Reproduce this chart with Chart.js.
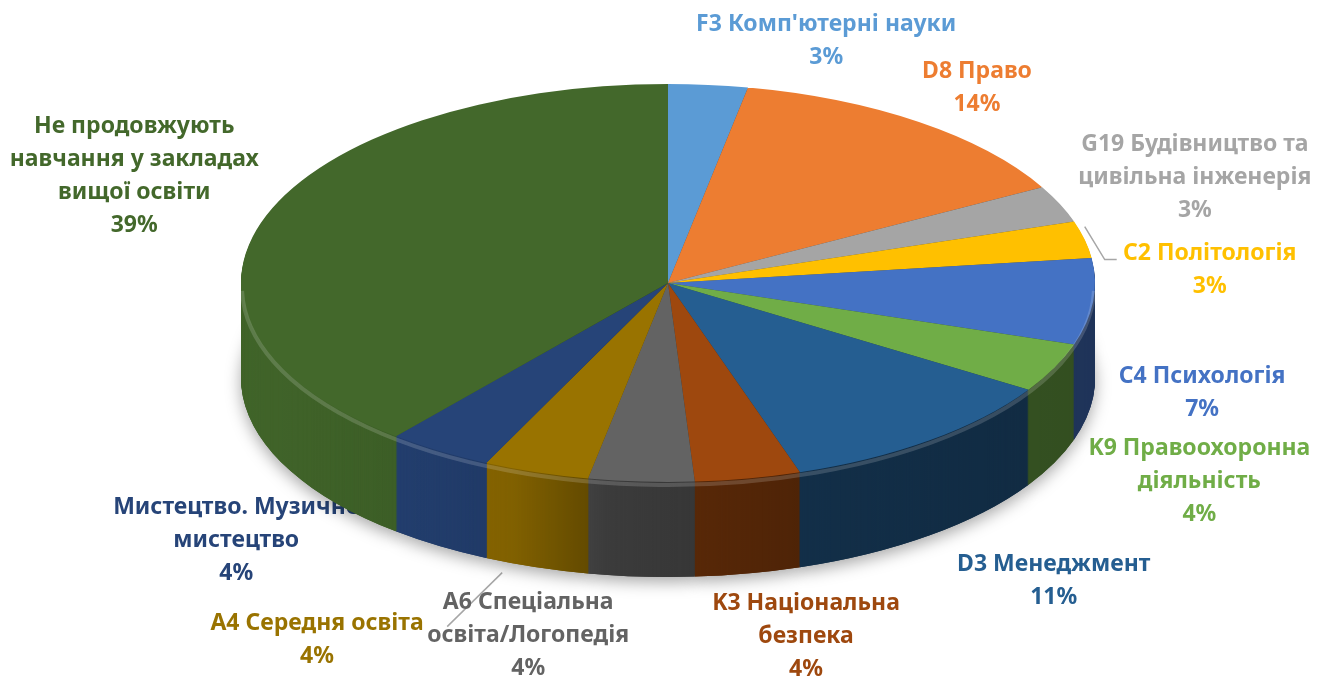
<!DOCTYPE html>
<html>
<head>
<meta charset="utf-8">
<script src="https://cdn.jsdelivr.net/npm/chart.js@4.4.1/dist/chart.umd.min.js"></script>
<style>
  html, body { margin: 0; padding: 0; background: #fff; }
  #wrap { width: 1331px; height: 684px; }
</style>
</head>
<body>
<div id="wrap"><canvas id="pie" width="1331" height="684"></canvas></div>
<script>
// slice names (one entry per label line) and shares in %
const categories = [
  ["F3 Комп'ютерні науки"],
  ['D8 Право'],
  ['G19 Будівництво та', 'цивільна інженерія'],
  ['C2 Політологія'],
  ['C4 Психологія'],
  ['K9 Правоохоронна', 'діяльність'],
  ['D3 Менеджмент'],
  ['K3 Національна', 'безпека'],
  ['A6 Спеціальна', 'освіта/Логопедія'],
  ['A4 Середня освіта'],
  ['Мистецтво. Музичне', 'мистецтво'],
  ['Не продовжують', 'навчання у закладах', 'вищої освіти']
];
const shares = [3, 14, 3, 3, 7, 4, 11, 4, 4, 4, 4, 39];

const colors = ['#5B9BD5', '#ED7D31', '#A5A5A5', '#FFC000', '#4472C4', '#70AD47',
                '#255E91', '#9E480E', '#636363', '#997300', '#264478', '#43682B'];

// how the flat pie is laid onto the page (tilted ellipse + thickness)
const EX = 668, EY = 283, RX = 427, RY = 199, DEPTH = 95;

// label nudges from the rim point at each slice's middle angle
const labelShift = [[118, -44], [58, -34], [135, -27], [125, 30], [109, 91], [145, 114],
                    [124, 141], [58, 158], [-113, 154], [-219, 168], [-203, 89], [-132, -40]];
// leader lines, points given relative to the label centre
const leaders = { 3: [[-125, -43], [-105, -10], [-93, -10]], 8: [[-26, -63], [-81, -9]] };

const FONT = 'bold 23px "Noto Sans"';
const LINE_H = 33;

function toScreen(ctx, arc, dy) {
  const r = arc.outerRadius;
  ctx.translate(EX, EY + dy);
  ctx.scale(RX / r, RY / r);
  ctx.translate(-arc.x, -arc.y);
}

function slicePath(ctx, a) {
  ctx.beginPath();
  ctx.moveTo(a.x, a.y);
  ctx.arc(a.x, a.y, a.outerRadius, a.startAngle, a.endAngle);
  ctx.closePath();
}

const pie3d = {
  id: 'pie3d',
  beforeDatasetsDraw(chart) {
    const ctx = chart.ctx;
    const arcs = chart.getDatasetMeta(0).data;

    // soft shadow under the base
    ctx.save();
    toScreen(ctx, arcs[0], DEPTH);
    ctx.shadowColor = 'rgba(0,0,0,0.35)';
    ctx.shadowBlur = 16;
    ctx.shadowOffsetY = 5;
    arcs.forEach((a, i) => { slicePath(ctx, a); ctx.fillStyle = colors[i]; ctx.fill(); });
    ctx.restore();

    // side wall, stacked from the bottom up
    for (let d = DEPTH; d >= 1; d--) {
      ctx.save();
      toScreen(ctx, arcs[0], d);
      arcs.forEach((a, i) => { slicePath(ctx, a); ctx.fillStyle = colors[i]; ctx.fill(); });
      ctx.restore();
    }

    // darken the wall towards the right
    ctx.save();
    ctx.globalCompositeOperation = 'source-atop';
    const g = ctx.createLinearGradient(EX - RX, 0, EX + RX, 0);
    g.addColorStop(0, 'rgba(0,0,0,0.04)');
    g.addColorStop(0.22, 'rgba(0,0,0,0.1)');
    g.addColorStop(0.32, 'rgba(0,0,0,0.16)');
    g.addColorStop(0.43, 'rgba(0,0,0,0.4)');
    g.addColorStop(0.65, 'rgba(0,0,0,0.5)');
    g.addColorStop(1, 'rgba(0,0,0,0.55)');
    ctx.fillStyle = g;
    ctx.fillRect(0, 0, chart.width, chart.height);
    ctx.restore();

    // top face is drawn by the chart under this transform
    ctx.save();
    toScreen(ctx, arcs[0], 0);
  },
  afterDatasetsDraw(chart) {
    const ctx = chart.ctx;
    ctx.restore();
    // bevel highlight along the front rim
    ctx.save();
    ctx.beginPath();
    ctx.ellipse(EX, EY + 4, RX - 1, RY - 1, 0, 0.02, Math.PI - 0.02);
    ctx.strokeStyle = 'rgba(255,255,255,0.16)';
    ctx.lineWidth = 4;
    ctx.stroke();
    ctx.restore();
  },
  afterDraw(chart) {
    const ctx = chart.ctx;
    const arcs = chart.getDatasetMeta(0).data;
    ctx.save();
    // labels sit behind the pie
    ctx.globalCompositeOperation = 'destination-over';
    ctx.font = FONT;
    ctx.textAlign = 'center';
    ctx.textBaseline = 'middle';
    arcs.forEach((a, i) => {
      const mid = (a.startAngle + a.endAngle) / 2;
      const ax = EX + RX * Math.cos(mid), ay = EY + RY * Math.sin(mid);
      const cx = ax + labelShift[i][0], cy = ay + labelShift[i][1];
      const lines = categories[i].concat([shares[i] + '%']);
      const y0 = cy - (lines.length - 1) * LINE_H / 2;
      ctx.fillStyle = colors[i];
      lines.forEach((t, k) => ctx.fillText(t, cx, y0 + k * LINE_H));
      if (leaders[i]) {
        ctx.beginPath();
        leaders[i].forEach((p, k) => k ? ctx.lineTo(cx + p[0], cy + p[1]) : ctx.moveTo(cx + p[0], cy + p[1]));
        ctx.strokeStyle = '#A6A6A6';
        ctx.lineWidth = 1.5;
        ctx.stroke();
      }
    });
    ctx.restore();
  }
};

new Chart(document.getElementById('pie'), {
  type: 'pie',
  data: {
    labels: categories.map(c => c.join(' ')),
    datasets: [{ data: shares, backgroundColor: colors, borderWidth: 0, clip: false }]
  },
  options: {
    responsive: false,
    devicePixelRatio: 1,
    animation: false,
    events: [],
    layout: { padding: 0 },
    plugins: { legend: { display: false }, tooltip: { enabled: false } }
  },
  plugins: [pie3d]
});
</script>
</body>
</html>
